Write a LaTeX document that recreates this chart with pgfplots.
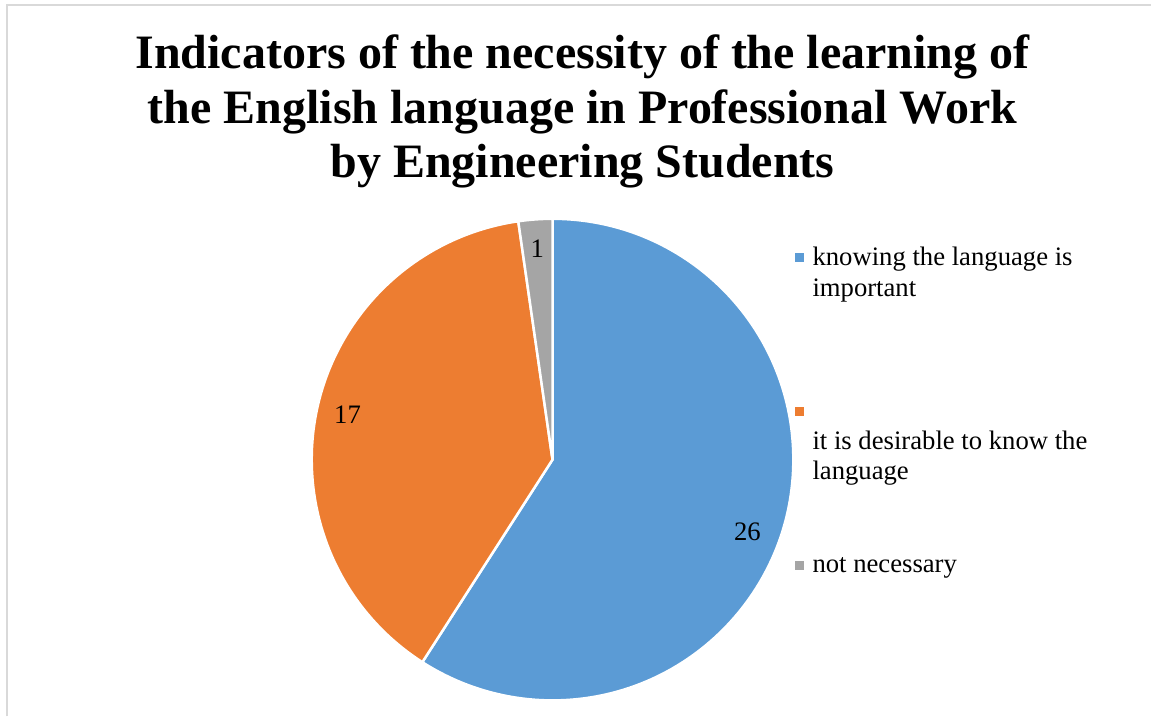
\documentclass[border=0pt]{standalone}
\usepackage{pgfplots}
\pgfplotsset{compat=1.18}
\usepackage{pgfplotstable}
\usepackage{fontspec}
\setmainfont{Liberation Serif}
\definecolor{cblue}{HTML}{5B9BD5}
\definecolor{corange}{HTML}{ED7D31}
\definecolor{cgray}{HTML}{A5A5A5}
\definecolor{cborder}{HTML}{D9D9D9}

\pgfplotstableread{
idx value
0 26
1 17
2 1
}\piedata

\begin{document}
\begin{tikzpicture}
\pgfplotstablegetelem{0}{value}\of\piedata \let\la\pgfplotsretval
\pgfplotstablegetelem{1}{value}\of\piedata \let\lb\pgfplotsretval
\pgfplotstablegetelem{2}{value}\of\piedata \let\lc\pgfplotsretval
\pgfmathsetmacro{\tot}{\la+\lb+\lc}
\pgfmathsetmacro{\aA}{90}
\pgfmathsetmacro{\aB}{\aA-360*\la/\tot}
\pgfmathsetmacro{\aC}{\aB-360*\lb/\tot}
\pgfmathsetmacro{\aD}{\aC-360*\lc/\tot}
\pgfmathsetmacro{\mA}{(\aA+\aB)/2}
\pgfmathsetmacro{\mB}{(\aB+\aC)/2}
\pgfmathsetmacro{\mC}{(\aC+\aD)/2}
\begin{axis}[
  width=1152pt, height=717pt, scale only axis,
  xmin=0, xmax=1152, ymin=0, ymax=717,
  hide axis, clip=false]
\path (axis cs:0,0) rectangle (axis cs:1152,717);
\draw[cborder, line width=2pt] (axis cs:7,0) -- (axis cs:7,712) -- (axis cs:1152,712);
% title
\node[anchor=base, font=\fontsize{48}{55}\selectfont\bfseries] at (axis cs:583,648.7) {Indicators of the necessity of the learning of};
\node[anchor=base, font=\fontsize{48}{55}\selectfont\bfseries] at (axis cs:583,593.7) {the English language in Professional Work};
\node[anchor=base, font=\fontsize{48}{55}\selectfont\bfseries] at (axis cs:583,539) {by Engineering Students};
% pie
\filldraw[fill=cblue, draw=white, line width=2.5pt, line join=round] (axis cs:553,257) -- ++(\aA:241pt) arc[start angle=\aA, end angle=\aB, radius=241pt] -- cycle;
\filldraw[fill=corange, draw=white, line width=2.5pt, line join=round] (axis cs:553,257) -- ++(\aB:241pt) arc[start angle=\aB, end angle=\aC, radius=241pt] -- cycle;
\filldraw[fill=cgray, draw=white, line width=2.5pt, line join=round] (axis cs:553,257) -- ++(\aC:241pt) arc[start angle=\aC, end angle=\aD, radius=241pt] -- cycle;
% data labels
\path (axis cs:553,257) ++(\mA-4:208pt) node[font=\fontsize{26.7}{31}\selectfont] {\la};
\path (axis cs:553,257) ++(\mB:210pt) node[font=\fontsize{26.7}{31}\selectfont] {\lb};
\path (axis cs:553,257) ++(\mC:212pt) node[font=\fontsize{26.7}{31}\selectfont] {\lc};
% legend
\fill[cblue] (axis cs:796,455) rectangle (axis cs:805,464);
\fill[corange] (axis cs:796,301) rectangle (axis cs:805,310);
\fill[cgray] (axis cs:796,147) rectangle (axis cs:805,156);
\node[anchor=base west, inner sep=0pt, font=\fontsize{26.7}{31}\selectfont] at (axis cs:813,451.3) {knowing the language is};
\node[anchor=base west, inner sep=0pt, font=\fontsize{26.7}{31}\selectfont] at (axis cs:813,420.3) {important};
\node[anchor=base west, inner sep=0pt, font=\fontsize{26.7}{31}\selectfont] at (axis cs:813,267) {it is desirable to know the};
\node[anchor=base west, inner sep=0pt, font=\fontsize{26.7}{31}\selectfont] at (axis cs:813,237) {language};
\node[anchor=base west, inner sep=0pt, font=\fontsize{26.7}{31}\selectfont] at (axis cs:813,143.7) {not necessary};
\end{axis}
\end{tikzpicture}
\end{document}
